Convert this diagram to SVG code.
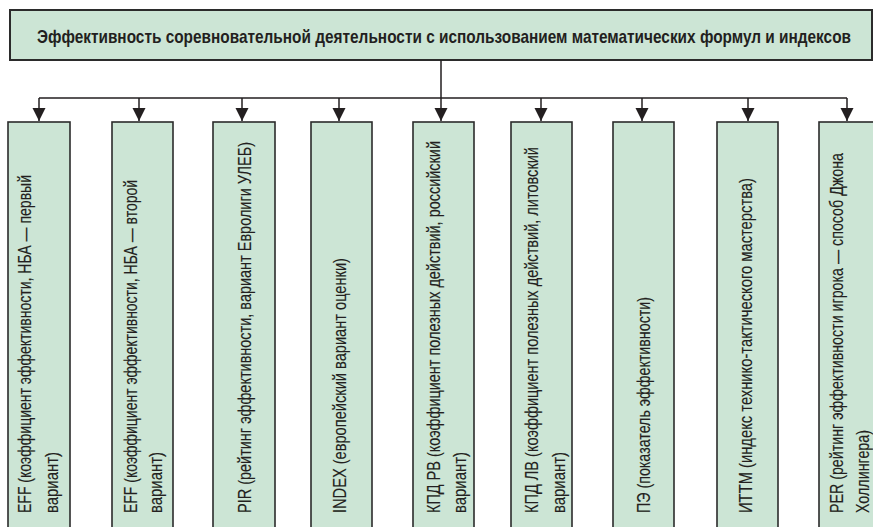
<svg xmlns="http://www.w3.org/2000/svg" width="873" height="527" viewBox="0 0 873 527">
<style>
.box{fill:#cce5d5;stroke:#2b2b2b;stroke-width:1.6}
.tbox{fill:#cce5d5;stroke:#2b2b2b;stroke-width:2}
.t{font-family:"Liberation Sans Narrow","Liberation Sans",Arial,sans-serif;font-size:19px;fill:#231f20;stroke:#231f20;stroke-width:0.15}
.title{font-family:"Liberation Sans Narrow","Liberation Sans",Arial,sans-serif;font-size:19px;font-weight:bold;fill:#231f20}
.c{fill:none;stroke:#231f20;stroke-width:1.5}
</style>
<defs>
<marker id="arr" markerUnits="userSpaceOnUse" markerWidth="14" markerHeight="14" viewBox="0 0 14 14" refX="13" refY="7" orient="auto">
<path d="M0,0.5 L13,7 L0,13.5 Z" fill="#231f20"/>
</marker>
</defs>
<rect width="873" height="527" fill="#ffffff"/>
<g id="title">
<rect class="tbox" x="10" y="10" width="862" height="50"/>
<text class="title" x="37" y="43" textLength="814" lengthAdjust="spacingAndGlyphs">Эффективность соревновательной деятельности с использованием математических формул и индексов</text>
</g>
<g id="connectors">
<path class="c" d="M441,60 V98 M39,98 H847"/>
<path class="c" d="M39,98 V121" marker-end="url(#arr)"/>
<path class="c" d="M139,98 V121" marker-end="url(#arr)"/>
<path class="c" d="M242,98 V121" marker-end="url(#arr)"/>
<path class="c" d="M339,98 V121" marker-end="url(#arr)"/>
<path class="c" d="M441,98 V121" marker-end="url(#arr)"/>
<path class="c" d="M541,98 V121" marker-end="url(#arr)"/>
<path class="c" d="M642,98 V121" marker-end="url(#arr)"/>
<path class="c" d="M748,98 V121" marker-end="url(#arr)"/>
<path class="c" d="M847,98 V121" marker-end="url(#arr)"/>
</g>
<g id="n1">
<rect class="box" x="8" y="122" width="62" height="420"/>
<text class="t" transform="translate(31,513) rotate(-90)" textLength="338" lengthAdjust="spacingAndGlyphs">EFF (коэффициент эффективности, НБА — первый</text>
<text class="t" transform="translate(58,513) rotate(-90)" textLength="61" lengthAdjust="spacingAndGlyphs">вариант)</text>
</g>
<g id="n2">
<rect class="box" x="112" y="122" width="61" height="420"/>
<text class="t" transform="translate(136.5,513) rotate(-90)" textLength="333" lengthAdjust="spacingAndGlyphs">EFF (коэффициент эффективности, НБА — второй</text>
<text class="t" transform="translate(162,513) rotate(-90)" textLength="61" lengthAdjust="spacingAndGlyphs">вариант)</text>
</g>
<g id="n3">
<rect class="box" x="213" y="122" width="62" height="420"/>
<text class="t" transform="translate(251,513) rotate(-90)" textLength="371" lengthAdjust="spacingAndGlyphs">PIR (рейтинг эффективности, вариант Евролиги УЛЕБ)</text>
</g>
<g id="n4">
<rect class="box" x="311" y="122" width="61" height="420"/>
<text class="t" transform="translate(346,513) rotate(-90)" textLength="255" lengthAdjust="spacingAndGlyphs">INDEX (европейский вариант оценки)</text>
</g>
<g id="n5">
<rect class="box" x="413" y="122" width="61" height="420"/>
<text class="t" transform="translate(440,513) rotate(-90)" textLength="372" lengthAdjust="spacingAndGlyphs">КПД РВ (коэффициент полезных действий, российский</text>
<text class="t" transform="translate(466,513) rotate(-90)" textLength="61" lengthAdjust="spacingAndGlyphs">вариант)</text>
</g>
<g id="n6">
<rect class="box" x="511" y="122" width="61" height="420"/>
<text class="t" transform="translate(538,513) rotate(-90)" textLength="366" lengthAdjust="spacingAndGlyphs">КПД ЛВ (коэффициент полезных действий, литовский</text>
<text class="t" transform="translate(564.5,513) rotate(-90)" textLength="61" lengthAdjust="spacingAndGlyphs">вариант)</text>
</g>
<g id="n7">
<rect class="box" x="613" y="122" width="61" height="420"/>
<text class="t" transform="translate(650,513) rotate(-90)" textLength="216" lengthAdjust="spacingAndGlyphs">ПЭ (показатель эффективности)</text>
</g>
<g id="n8">
<rect class="box" x="717" y="122" width="61" height="420"/>
<text class="t" transform="translate(752,513) rotate(-90)" textLength="335" lengthAdjust="spacingAndGlyphs">ИТТМ (индекс технико-тактического мастерства)</text>
</g>
<g id="n9">
<rect class="box" x="819" y="122" width="62" height="420"/>
<text class="t" transform="translate(843,513) rotate(-90)" textLength="360" lengthAdjust="spacingAndGlyphs">PER (рейтинг эффективности игрока — способ Джона</text>
<text class="t" transform="translate(869,513) rotate(-90)" textLength="83" lengthAdjust="spacingAndGlyphs">Холлингера)</text>
</g>
</svg>
